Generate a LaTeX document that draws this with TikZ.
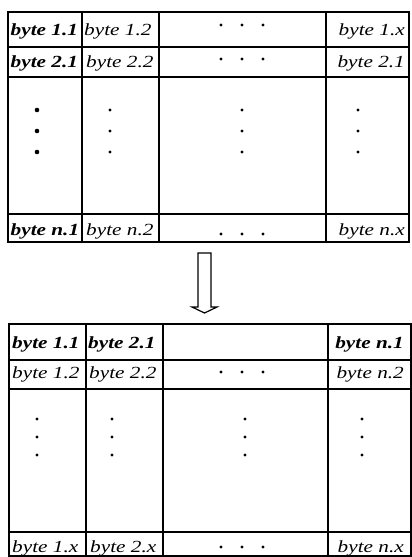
\documentclass[tikz,border=0pt]{standalone}
\usepackage{fontspec}
\newfontfamily\bytefont[FakeStretch=1.25]{Liberation Serif}
\newcommand\bytesize{\fontsize{17}{17}\selectfont}
\begin{document}
\begin{tikzpicture}[x=1pt,y=-1pt,
  frame/.style={line width=2.6pt},
  grid/.style={line width=1.8pt},
  txtL/.style={anchor=base west,inner sep=0pt,font=\bytefont\bytesize\itshape},
  txtR/.style={anchor=base east,inner sep=0pt,font=\bytefont\bytesize\itshape},
  boldL/.style={txtL,font=\bytefont\bytesize\bfseries\itshape},
  boldR/.style={txtR,font=\bytefont\bytesize\bfseries\itshape},
  pt/.style={fill=black,draw=none},
  hollow/.style={line width=1.2pt,line join=miter}]
\useasboundingbox (0,0) rectangle (412,557);

% ---------- upper table ----------
\draw[grid] (82,12) -- (82,242) (159,12) -- (159,242) (326,12) -- (326,242);
\draw[grid] (8,47) -- (409,47) (8,77) -- (409,77) (8,214) -- (409,214);
\draw[frame] (8,12) rectangle (409,242);

\node[boldL] (a11) at (10.5,35) {byte 1.1};
\node[txtL]  (a12) at (84,35) {byte 1.2};
\node[txtR]  (a1x) at (405,35) {byte 1.x};
\node[boldL] (a21) at (10.5,67) {byte 2.1};
\node[txtL]  (a22) at (86,67) {byte 2.2};
\node[txtR]  (a2x) at (405,67) {byte 2.1};
\node[boldL] (an1) at (10.5,235) {byte n.1};
\node[txtL]  (an2) at (86,235) {byte n.2};
\node[txtR]  (anx) at (405,235) {byte n.x};

% horizontal ellipses
\foreach \y in {25,59,234}
  \foreach \x in {221,242,263} \fill[pt] (\x,\y) circle (1.6);
% vertical ellipses
\foreach \y in {110,131,152} {
  \fill[pt] (37,\y) circle (2.3);
  \fill[pt] (110,\y) circle (1.6);
  \fill[pt] (242,\y) circle (1.6);
  \fill[pt] (358,\y) circle (1.6);
}

% ---------- transpose arrow ----------
\draw[hollow] (198,253) -- (211,253) -- (211,307) -- (217,307) -- (204.5,313)
  -- (192,307) -- (198,307) -- cycle;

% ---------- lower table ----------
\draw[grid] (86,324) -- (86,556) (163,324) -- (163,556) (328,324) -- (328,556);
\draw[grid] (9,360) -- (411,360) (9,389) -- (411,389) (9,532) -- (411,532);
\draw[frame] (9,324) rectangle (411,556);

\node[boldL] (b11) at (12,348) {byte 1.1};
\node[boldL] (b21) at (88,348) {byte 2.1};
\node[boldR] (bn1) at (404,348) {byte n.1};
\node[txtL]  (b12) at (12,378) {byte 1.2};
\node[txtL]  (b22) at (89,378) {byte 2.2};
\node[txtR]  (bn2) at (404,378) {byte n.2};
\node[txtL]  (b1x) at (12,552) {byte 1.x};
\node[txtL]  (b2x) at (90,552) {byte 2.x};
\node[txtR]  (bnx) at (404,552) {byte n.x};

\foreach \y in {372,547}
  \foreach \x in {221,242,263} \fill[pt] (\x,\y) circle (1.6);
\foreach \y in {419,437,455} {
  \fill[pt] (37,\y) circle (1.6);
  \fill[pt] (112,\y) circle (1.6);
  \fill[pt] (245,\y) circle (1.6);
  \fill[pt] (362,\y) circle (1.6);
}
\end{tikzpicture}
\end{document}
